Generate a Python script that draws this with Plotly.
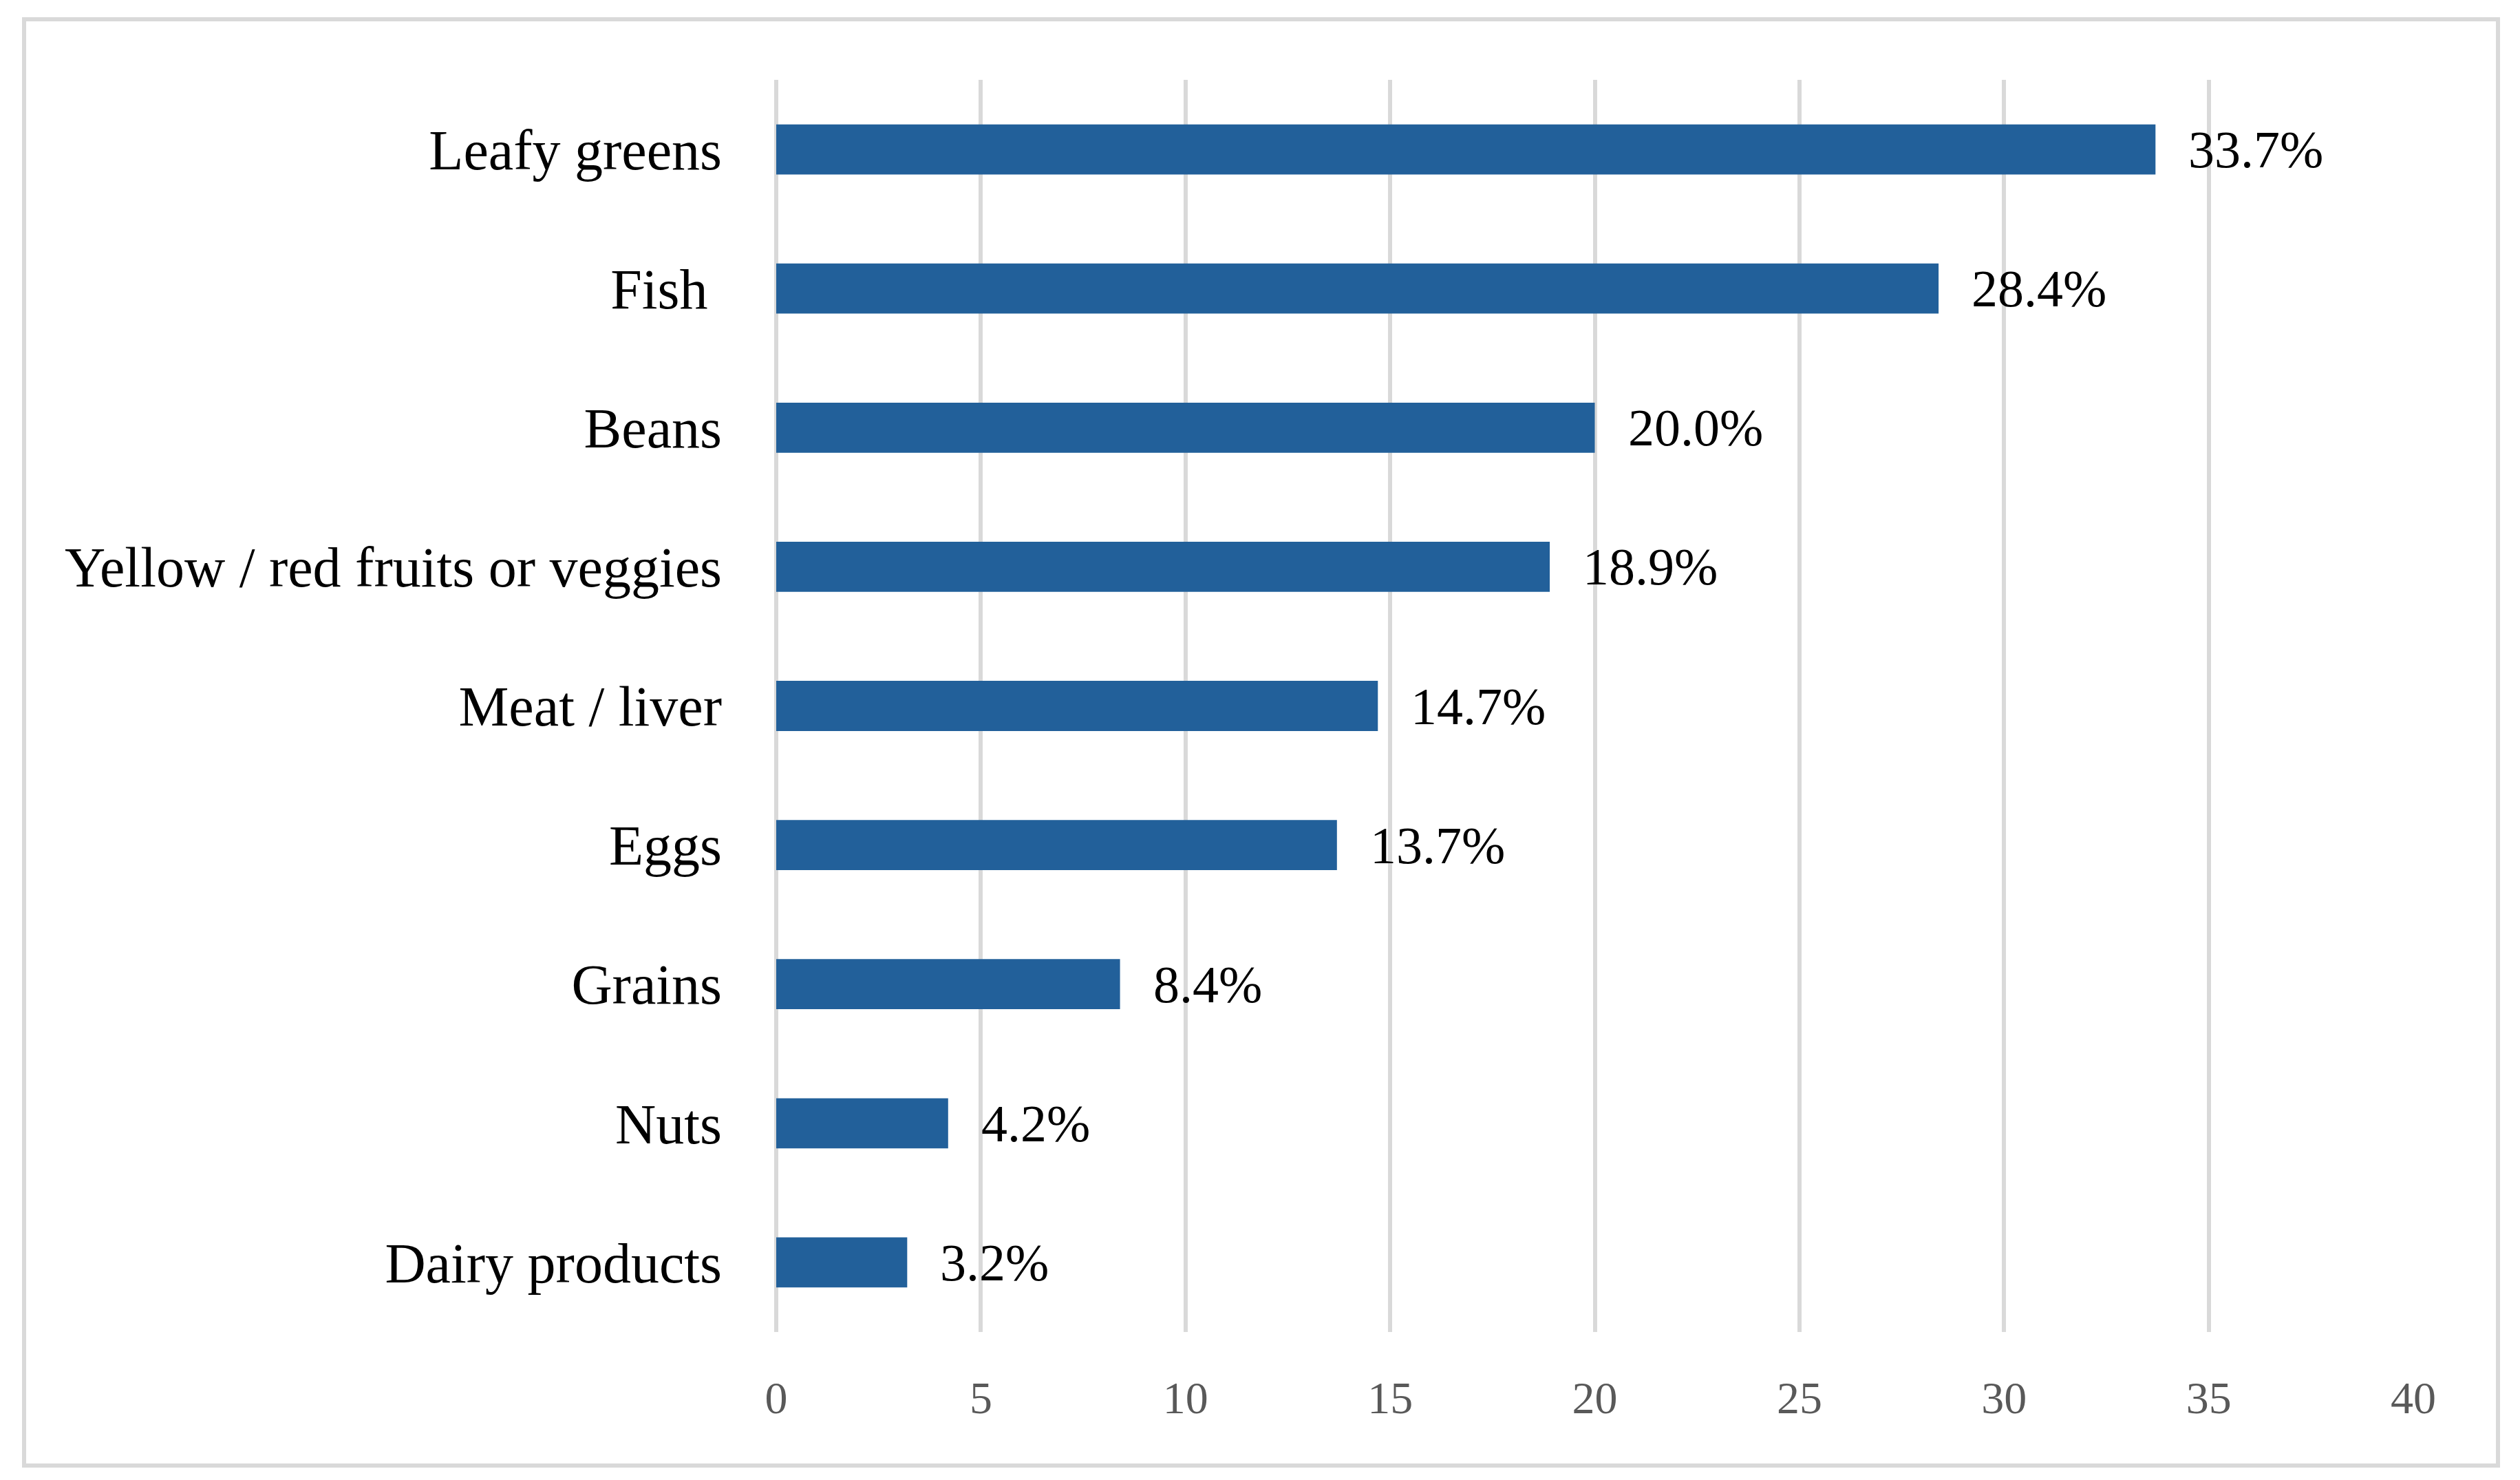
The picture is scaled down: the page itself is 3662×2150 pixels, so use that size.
import plotly.graph_objects as go

# Share of respondents naming each food group (%)
foods = [
    "Leafy greens",
    "Fish\u00a0",
    "Beans",
    "Yellow / red fruits or veggies",
    "Meat / liver",
    "Eggs",
    "Grains",
    "Nuts",
    "Dairy products",
]
shares = [33.7, 28.4, 20.0, 18.9, 14.7, 13.7, 8.4, 4.2, 3.2]
x_ticks = [0, 5, 10, 15, 20, 25, 30, 35, 40]

W, H = 3662, 2150
# the page body adds an 8px margin, so positions are set 8px up/left
OFF = 8
# plot area in pixels
PL, PR, PT, PB = 1128 - OFF, 3507 - OFF, 116 - OFF, 1935 - OFF

SERIF = "Book Antiqua, Palatino Linotype, Palatino, Liberation Serif, serif"
BAR_COLOR = "#22609A"
GRID = "#D9D9D9"

fig = go.Figure()

fig.add_trace(go.Bar(
    x=shares,
    y=foods,
    orientation="h",
    marker=dict(color=BAR_COLOR, line=dict(width=0)),
    hovertemplate="%{y}: %{x:.1f}%<extra></extra>",
))

# value labels to the right of each bar
for food, val in zip(foods, shares):
    fig.add_annotation(
        x=val, y=food,
        text=f"{val:.1f}%",
        showarrow=False,
        xanchor="left", yanchor="middle",
        xshift=46,
        font=dict(family=SERIF, size=76, color="#000000"),
    )


def px_to_paper_x(px):
    return (px - PL) / (PR - PL)


def px_to_paper_y(py):
    return (PB - py) / (PB - PT)


# light grey frame round the whole chart
fig.add_shape(
    type="rect", xref="paper", yref="paper",
    x0=px_to_paper_x(35 - OFF), x1=px_to_paper_x(3630 - OFF),
    y0=px_to_paper_y(2129 - OFF), y1=px_to_paper_y(28 - OFF),
    line=dict(color=GRID, width=6),
    fillcolor="rgba(0,0,0,0)",
    layer="below",
)

fig.update_layout(
    width=W, height=H,
    margin=dict(l=PL, r=W - PR, t=PT, b=H - PB, autoexpand=False),
    paper_bgcolor="white",
    plot_bgcolor="white",
    bargap=0.64,
    showlegend=False,
    xaxis=dict(
        range=[0, 40],
        tickvals=x_ticks,
        showgrid=True,
        gridcolor=GRID,
        gridwidth=6,
        zeroline=True,
        zerolinecolor=GRID,
        zerolinewidth=6,
        showline=False,
        ticks="",
        ticklabelstandoff=51,
        tickfont=dict(family=SERIF, size=66, color="#595959"),
        fixedrange=True,
    ),
    yaxis=dict(
        type="category",
        autorange="reversed",
        showgrid=False,
        zeroline=False,
        showline=False,
        ticks="",
        ticklabelstandoff=78,
        tickfont=dict(family=SERIF, size=82, color="#000000"),
        fixedrange=True,
    ),
)

fig.write_html("out.html")
